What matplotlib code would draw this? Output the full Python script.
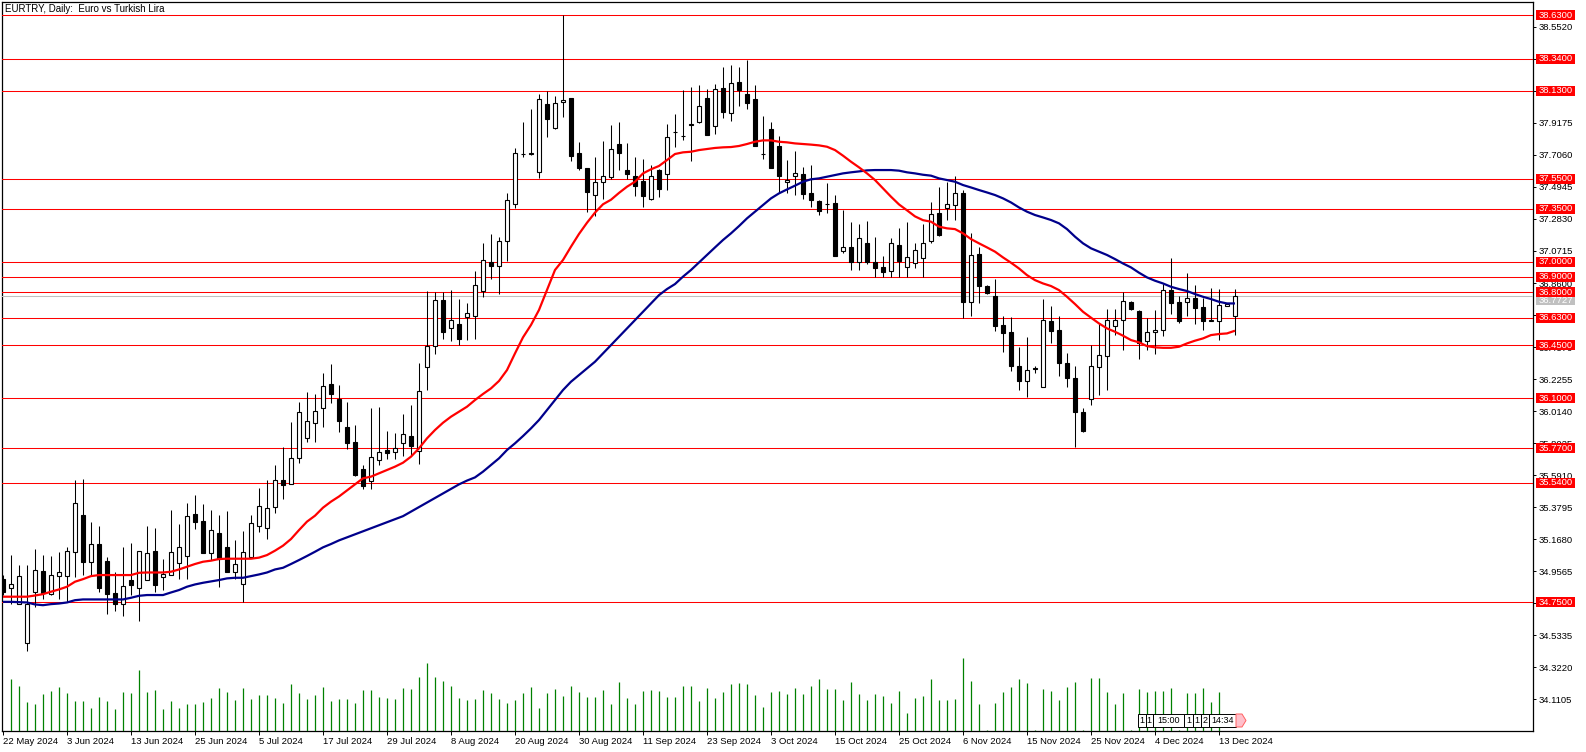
import matplotlib
matplotlib.use("Agg")
import matplotlib.pyplot as plt
from matplotlib.patches import Rectangle, Polygon
from matplotlib.transforms import blended_transform_factory
import numpy as np

plt.rcParams['font.family'] = ['Liberation Sans', 'DejaVu Sans']

# ---------------- data ----------------
opens = [34.902,34.843,34.737,34.485,34.821,34.957,34.803,34.922,34.922,35.081,
         35.328,35.015,35.136,35.023,34.810,34.737,34.898,34.843,34.898,35.090,
         34.915,34.929,35.012,35.059,35.334,35.288,35.074,35.209,35.116,34.948,
         34.873,35.048,35.253,35.240,35.378,35.557,35.530,35.703,35.839,35.936,
         36.035,36.195,36.096,35.912,35.813,35.630,35.550,35.689,35.760,35.741,
         35.801,35.850,35.751,36.303,36.446,36.746,36.560,36.587,36.638,36.644,
         36.809,36.999,36.970,37.139,37.382,37.712,37.713,37.591,38.040,37.886,
         38.053,38.080,37.719,37.617,37.439,37.525,37.562,37.775,37.608,37.569,
         37.531,37.417,37.608,37.582,37.858,37.832,37.904,37.924,38.082,37.896,
         38.150,37.983,38.190,38.108,38.076,37.714,37.874,37.762,37.529,37.569,
         37.582,37.457,37.404,37.383,37.386,37.073,37.101,36.996,37.121,36.996,
         36.965,36.939,37.114,36.963,36.990,37.023,37.137,37.325,37.356,37.378,
         37.457,36.733,37.049,36.841,36.775,36.584,36.535,36.314,36.213,36.296,
         36.173,36.608,36.551,36.331,36.233,36.011,36.094,36.305,36.375,36.573,
         36.615,36.733,36.676,36.474,36.535,36.549,36.814,36.733,36.733,36.759,
         36.702,36.612,36.606,36.711,36.639]
highs = [34.930,35.063,34.997,34.997,35.103,35.063,35.056,35.083,35.118,35.559,
         35.566,35.279,35.255,35.052,34.948,35.116,35.145,35.092,35.255,35.242,
         35.037,35.361,35.268,35.405,35.460,35.398,35.361,35.328,35.354,35.162,
         35.222,35.328,35.508,35.559,35.658,35.775,35.945,36.077,36.137,36.129,
         36.265,36.327,36.189,36.072,35.919,35.660,36.034,36.039,35.880,35.872,
         35.998,36.053,36.330,36.807,36.798,36.798,36.814,36.754,36.726,36.939,
         37.126,37.184,37.166,37.452,37.754,37.923,38.007,38.106,38.128,38.095,
         38.630,38.080,37.791,37.620,37.690,37.798,37.903,37.926,37.786,37.689,
         37.676,37.641,37.610,37.911,37.977,38.135,38.157,38.170,38.141,38.174,
         38.288,38.302,38.288,38.334,38.170,37.964,37.926,37.828,37.670,37.729,
         37.626,37.637,37.410,37.518,37.439,37.340,37.264,37.248,37.270,37.163,
         37.038,37.154,37.220,37.261,37.126,37.253,37.396,37.494,37.527,37.565,
         37.472,37.192,37.095,36.850,36.887,36.639,36.634,36.437,36.505,36.310,
         36.755,36.709,36.639,36.397,36.314,36.035,36.448,36.595,36.689,36.687,
         36.803,36.740,36.680,36.632,36.683,36.854,37.023,36.775,36.924,36.845,
         36.764,36.827,36.819,36.730,36.819]
lows = [34.800,34.743,34.737,34.430,34.721,34.772,34.799,34.776,34.754,34.920,
        34.931,34.931,34.821,34.677,34.695,34.662,34.799,34.629,34.898,34.821,
        34.832,34.929,34.902,34.904,35.233,35.079,35.030,34.854,34.953,34.902,
        34.750,35.048,35.217,35.167,35.339,35.431,35.530,35.669,35.808,35.809,
        35.908,36.068,35.877,35.765,35.585,35.500,35.500,35.660,35.700,35.700,
        35.720,35.720,35.665,36.153,36.391,36.490,36.479,36.450,36.483,36.488,
        36.767,36.886,36.789,37.005,37.355,37.690,37.703,37.551,37.826,37.879,
        37.954,37.668,37.606,37.329,37.302,37.415,37.550,37.604,37.549,37.435,
        37.362,37.410,37.428,37.472,37.757,37.806,37.665,37.920,37.836,37.845,
        37.948,37.933,38.032,38.007,37.764,37.678,37.619,37.461,37.457,37.439,
        37.417,37.362,37.312,37.321,37.040,37.059,36.945,36.945,36.985,36.902,
        36.902,36.902,36.902,36.902,36.957,36.902,37.121,37.170,37.279,37.279,
        36.628,36.639,36.731,36.785,36.540,36.402,36.277,36.156,36.105,36.266,
        36.170,36.467,36.244,36.171,35.778,35.875,36.053,36.123,36.151,36.514,
        36.415,36.680,36.360,36.419,36.391,36.507,36.656,36.599,36.639,36.586,
        36.551,36.608,36.481,36.705,36.514]
closes = [34.816,34.873,34.922,34.743,34.964,34.810,34.929,34.948,35.090,35.405,
          35.015,35.136,34.847,34.805,34.737,34.862,34.865,35.090,35.074,34.865,
          34.935,35.081,35.114,35.321,35.281,35.079,35.226,35.037,34.953,35.004,
          35.081,35.273,35.387,35.372,35.559,35.524,35.703,36.007,35.950,36.013,
          36.182,36.127,35.947,35.802,35.592,35.520,35.710,35.742,35.740,35.768,
          35.863,35.781,36.149,36.446,36.748,36.538,36.613,36.488,36.660,36.845,
          37.010,36.970,37.135,37.406,37.716,37.714,37.716,38.073,37.945,38.047,
          38.066,37.701,37.622,37.463,37.525,37.564,37.743,37.718,37.577,37.501,
          37.435,37.569,37.481,37.825,37.856,37.830,37.911,38.029,37.836,38.141,
          37.988,38.183,38.133,38.047,37.764,37.712,37.619,37.566,37.542,37.588,
          37.448,37.406,37.338,37.381,37.040,37.101,36.996,37.160,37.002,36.961,
          36.934,37.121,37.007,37.033,37.078,37.121,37.319,37.176,37.385,37.457,
          36.737,37.042,36.843,36.792,36.579,36.529,36.310,36.211,36.285,36.290,
          36.615,36.546,36.331,36.233,36.009,35.882,36.310,36.384,36.617,36.615,
          36.740,36.687,36.467,36.535,36.549,36.814,36.731,36.606,36.759,36.698,
          36.612,36.613,36.713,36.722,36.775]

ma_red = [34.788,34.788,34.788,34.788,34.796,34.805,34.821,34.836,34.854,34.887,
          34.904,34.924,34.931,34.931,34.931,34.931,34.931,34.946,34.948,34.948,
          34.948,34.953,34.968,34.986,35.004,35.019,35.026,35.037,35.039,35.039,
          35.039,35.039,35.046,35.063,35.092,35.125,35.169,35.228,35.284,35.323,
          35.376,35.416,35.450,35.490,35.530,35.570,35.581,35.603,35.625,35.647,
          35.673,35.713,35.768,35.834,35.889,35.937,35.977,36.010,36.043,36.087,
          36.127,36.164,36.213,36.285,36.395,36.501,36.583,36.682,36.814,36.946,
          37.012,37.100,37.184,37.258,37.325,37.380,37.410,37.455,37.496,37.529,
          37.584,37.611,37.633,37.672,37.712,37.723,37.727,37.738,37.745,37.752,
          37.756,37.758,37.765,37.778,37.793,37.802,37.802,37.793,37.789,37.782,
          37.778,37.774,37.769,37.760,37.738,37.701,37.661,37.624,37.584,37.540,
          37.485,37.430,37.379,37.340,37.300,37.275,37.265,37.232,37.221,37.216,
          37.188,37.150,37.122,37.095,37.067,37.029,36.994,36.956,36.912,36.879,
          36.857,36.840,36.813,36.769,36.721,36.670,36.631,36.593,36.560,36.538,
          36.512,36.483,36.468,36.443,36.435,36.432,36.432,36.439,36.461,36.479,
          36.494,36.516,36.523,36.527,36.545]
ma_blue = [34.754,34.754,34.752,34.750,34.737,34.732,34.739,34.743,34.750,34.765,
           34.770,34.770,34.770,34.770,34.770,34.770,34.781,34.794,34.799,34.799,
           34.799,34.816,34.832,34.854,34.869,34.880,34.889,34.898,34.909,34.913,
           34.913,34.924,34.935,34.948,34.968,34.979,35.004,35.030,35.057,35.085,
           35.114,35.136,35.160,35.180,35.200,35.220,35.240,35.260,35.280,35.300,
           35.320,35.350,35.380,35.410,35.440,35.470,35.500,35.530,35.555,35.576,
           35.614,35.658,35.702,35.757,35.801,35.849,35.900,35.955,36.021,36.087,
           36.153,36.208,36.252,36.296,36.340,36.395,36.450,36.505,36.560,36.615,
           36.670,36.725,36.780,36.820,36.853,36.902,36.946,36.996,37.045,37.095,
           37.144,37.188,37.236,37.287,37.331,37.375,37.419,37.452,37.478,37.503,
           37.529,37.545,37.551,37.562,37.573,37.584,37.591,37.597,37.604,37.606,
           37.606,37.606,37.602,37.591,37.584,37.575,37.569,37.551,37.540,37.529,
           37.507,37.491,37.474,37.458,37.441,37.419,37.392,37.359,37.331,37.309,
           37.293,37.276,37.254,37.216,37.166,37.122,37.089,37.067,37.045,37.018,
           36.989,36.963,36.928,36.897,36.875,36.857,36.835,36.820,36.807,36.787,
           36.769,36.754,36.736,36.725,36.725]

volumes = [0,152,134,86,80,110,119,131,113,89,89,68,101,89,65,116,113,179,116,122,
           65,89,68,80,80,86,98,128,116,92,128,95,107,107,98,83,137,113,95,107,
           131,89,95,95,83,122,122,101,98,95,128,125,158,200,158,146,134,98,92,95,
           122,113,95,83,92,113,131,68,113,125,104,134,116,101,101,122,80,143,98,80,
           119,122,119,101,101,134,134,89,128,98,116,137,140,137,107,71,116,119,110,128,
           110,134,152,125,125,92,143,110,92,110,104,83,119,53,98,104,152,92,92,95,
           215,146,80,2,83,116,131,152,140,2,125,119,92,131,143,2,155,155,116,80,
           113,2,125,116,119,119,128,2,113,113,128,86,116,0,0]

level_lines = [38.63, 38.34, 38.13, 37.55, 37.35, 37.00, 36.90, 36.80,
               36.63, 36.45, 36.10, 35.77, 35.54, 34.75]
bid_price = 36.7727

price_ticks = [38.5520, 38.3405, 38.1290, 37.9175, 37.7060, 37.4945, 37.2830,
               37.0715, 36.8600, 36.6485, 36.4370, 36.2255, 36.0140, 35.8025,
               35.5910, 35.3795, 35.1680, 34.9565, 34.7450, 34.5335, 34.3220,
               34.1105]

date_labels = ["22 May 2024", "3 Jun 2024", "13 Jun 2024", "25 Jun 2024",
               "5 Jul 2024", "17 Jul 2024", "29 Jul 2024", "8 Aug 2024",
               "20 Aug 2024", "30 Aug 2024", "11 Sep 2024", "23 Sep 2024",
               "3 Oct 2024", "15 Oct 2024", "25 Oct 2024", "6 Nov 2024",
               "15 Nov 2024", "25 Nov 2024", "4 Dec 2024", "13 Dec 2024"]
date_step = 8

title = "EURTRY, Daily:  Euro vs Turkish Lira"
info_texts = ["1", "1", "15:00", "1", "1", "2", "14:34"]

# ---------------- figure ----------------
W, H = 1586, 752
fig = plt.figure(figsize=(W / 100, H / 100), dpi=100)
ax_l, ax_r, ax_t, ax_b = 2, 1533, 2, 731
ax = fig.add_axes([ax_l / W, 1 - ax_b / H, (ax_r - ax_l) / W, (ax_b - ax_t) / H])
ax_h_px = ax_b - ax_t
ax_w_px = ax_r - ax_l

n = len(closes)
idx = np.arange(n)
o = np.array(opens); c = np.array(closes); hi = np.array(highs); lo = np.array(lows)

ax.set_xlim(-0.125, 191.25)
ax.set_ylim(33.901, 38.716)
px_per_unit = ax_h_px / (38.716 - 33.901)

# level lines
for lv in level_lines:
    ax.axhline(lv, color='#FF0000', lw=0.75, zorder=3)
ax.axhline(bid_price, color='#C0C0C0', lw=0.75, zorder=2.9)

# wicks
ax.vlines(idx, lo, hi, color='black', lw=0.75, zorder=4)
# bodies
bull = c >= o
bottoms = np.minimum(o, c)
heights = np.maximum(np.abs(c - o), 0.4 / px_per_unit)
ax.bar(idx[bull], heights[bull], bottom=bottoms[bull], width=0.5,
       facecolor='white', edgecolor='black', linewidth=0.8, zorder=5)
ax.bar(idx[~bull], heights[~bull], bottom=bottoms[~bull], width=0.5,
       facecolor='black', edgecolor='black', linewidth=0.8, zorder=5)

# moving averages
ax.plot(idx, ma_blue, color='#00008B', lw=1.6, zorder=6, solid_capstyle='butt')
ax.plot(idx, ma_red, color='#FF0000', lw=1.6, zorder=6, solid_capstyle='butt')

# volumes
axv = ax.twinx()
axv.set_ylim(0, 215 * ax_h_px / 73)
axv.vlines(idx, 0, volumes, color='#008000', lw=0.9)
axv.axis('off')
axv.set_xlim(ax.get_xlim())

# axes styling
for s in ax.spines.values():
    s.set_color('black'); s.set_linewidth(0.9)
ax.yaxis.tick_right()
ax.set_yticks(price_ticks)
ax.set_yticklabels([f"{v:.4f}" for v in price_ticks])
ax.tick_params(axis='y', direction='out', length=2.4, width=0.7, pad=1.5,
               labelsize=6.8, colors='black')
date_idx = [k * date_step for k in range(len(date_labels))]
ax.set_xticks(date_idx)
ax.set_xticklabels(date_labels)
for t in ax.get_xticklabels():
    t.set_ha('left')
ax.tick_params(axis='x', direction='out', length=3.2, width=0.7, pad=1.2,
               labelsize=6.8, colors='black')

# right price tags
tr = blended_transform_factory(ax.transAxes, ax.transData)
box_x0 = 1 + 3 / ax_w_px
box_w = 39 / ax_w_px
box_h = 10 / px_per_unit
ax.add_patch(Rectangle((box_x0, bid_price - box_h / 2 - 4 / px_per_unit), box_w, box_h,
                       transform=tr, facecolor='#C0C0C0', edgecolor='none',
                       clip_on=False, zorder=8))
ax.text(box_x0 + box_w / 2, bid_price - 4 / px_per_unit, f"{bid_price:.4f}", transform=tr,
        ha='center', va='center', color='white', fontsize=6.8, zorder=9, clip_on=False)
for lv in level_lines:
    ax.add_patch(Rectangle((box_x0, lv - box_h / 2), box_w, box_h, transform=tr,
                           facecolor='#FF0000', edgecolor='none', clip_on=False, zorder=10))
    ax.text(box_x0 + box_w / 2, lv, f"{lv:.4f}", transform=tr, ha='center', va='center',
            color='white', fontsize=6.8, zorder=11, clip_on=False)

# title
fig.text(5 / W, 1 - 9 / H, title, ha='left', va='center', fontsize=7, color='black')

# small info boxes near the bottom right
box_edges = [1138, 1145.5, 1153, 1184, 1193, 1201, 1209, 1236]
y0, y1 = 714, 727
for k, txt in enumerate(info_texts):
    xa, xb = box_edges[k], box_edges[k + 1]
    fig.patches.append(Rectangle((xa / W, 1 - y1 / H), (xb - xa) / W, (y1 - y0) / H,
                                 transform=fig.transFigure, facecolor='white',
                                 edgecolor='black', linewidth=0.7, zorder=20))
    fig.text((xa + xb) / 2 / W, 1 - (y0 + y1) / 2 / H, txt, ha='center', va='center',
             fontsize=6.5, color='black', zorder=21)
fig.patches.append(Polygon([[1236 / W, 1 - y0 / H], [1242 / W, 1 - y0 / H],
                            [1246 / W, 1 - (y0 + y1) / 2 / H], [1242 / W, 1 - y1 / H],
                            [1236 / W, 1 - y1 / H]], closed=True,
                           transform=fig.transFigure, facecolor='#FFC0CB',
                           edgecolor='#FF6060', linewidth=0.7, zorder=20))

fig.savefig("out.png", dpi=100)
